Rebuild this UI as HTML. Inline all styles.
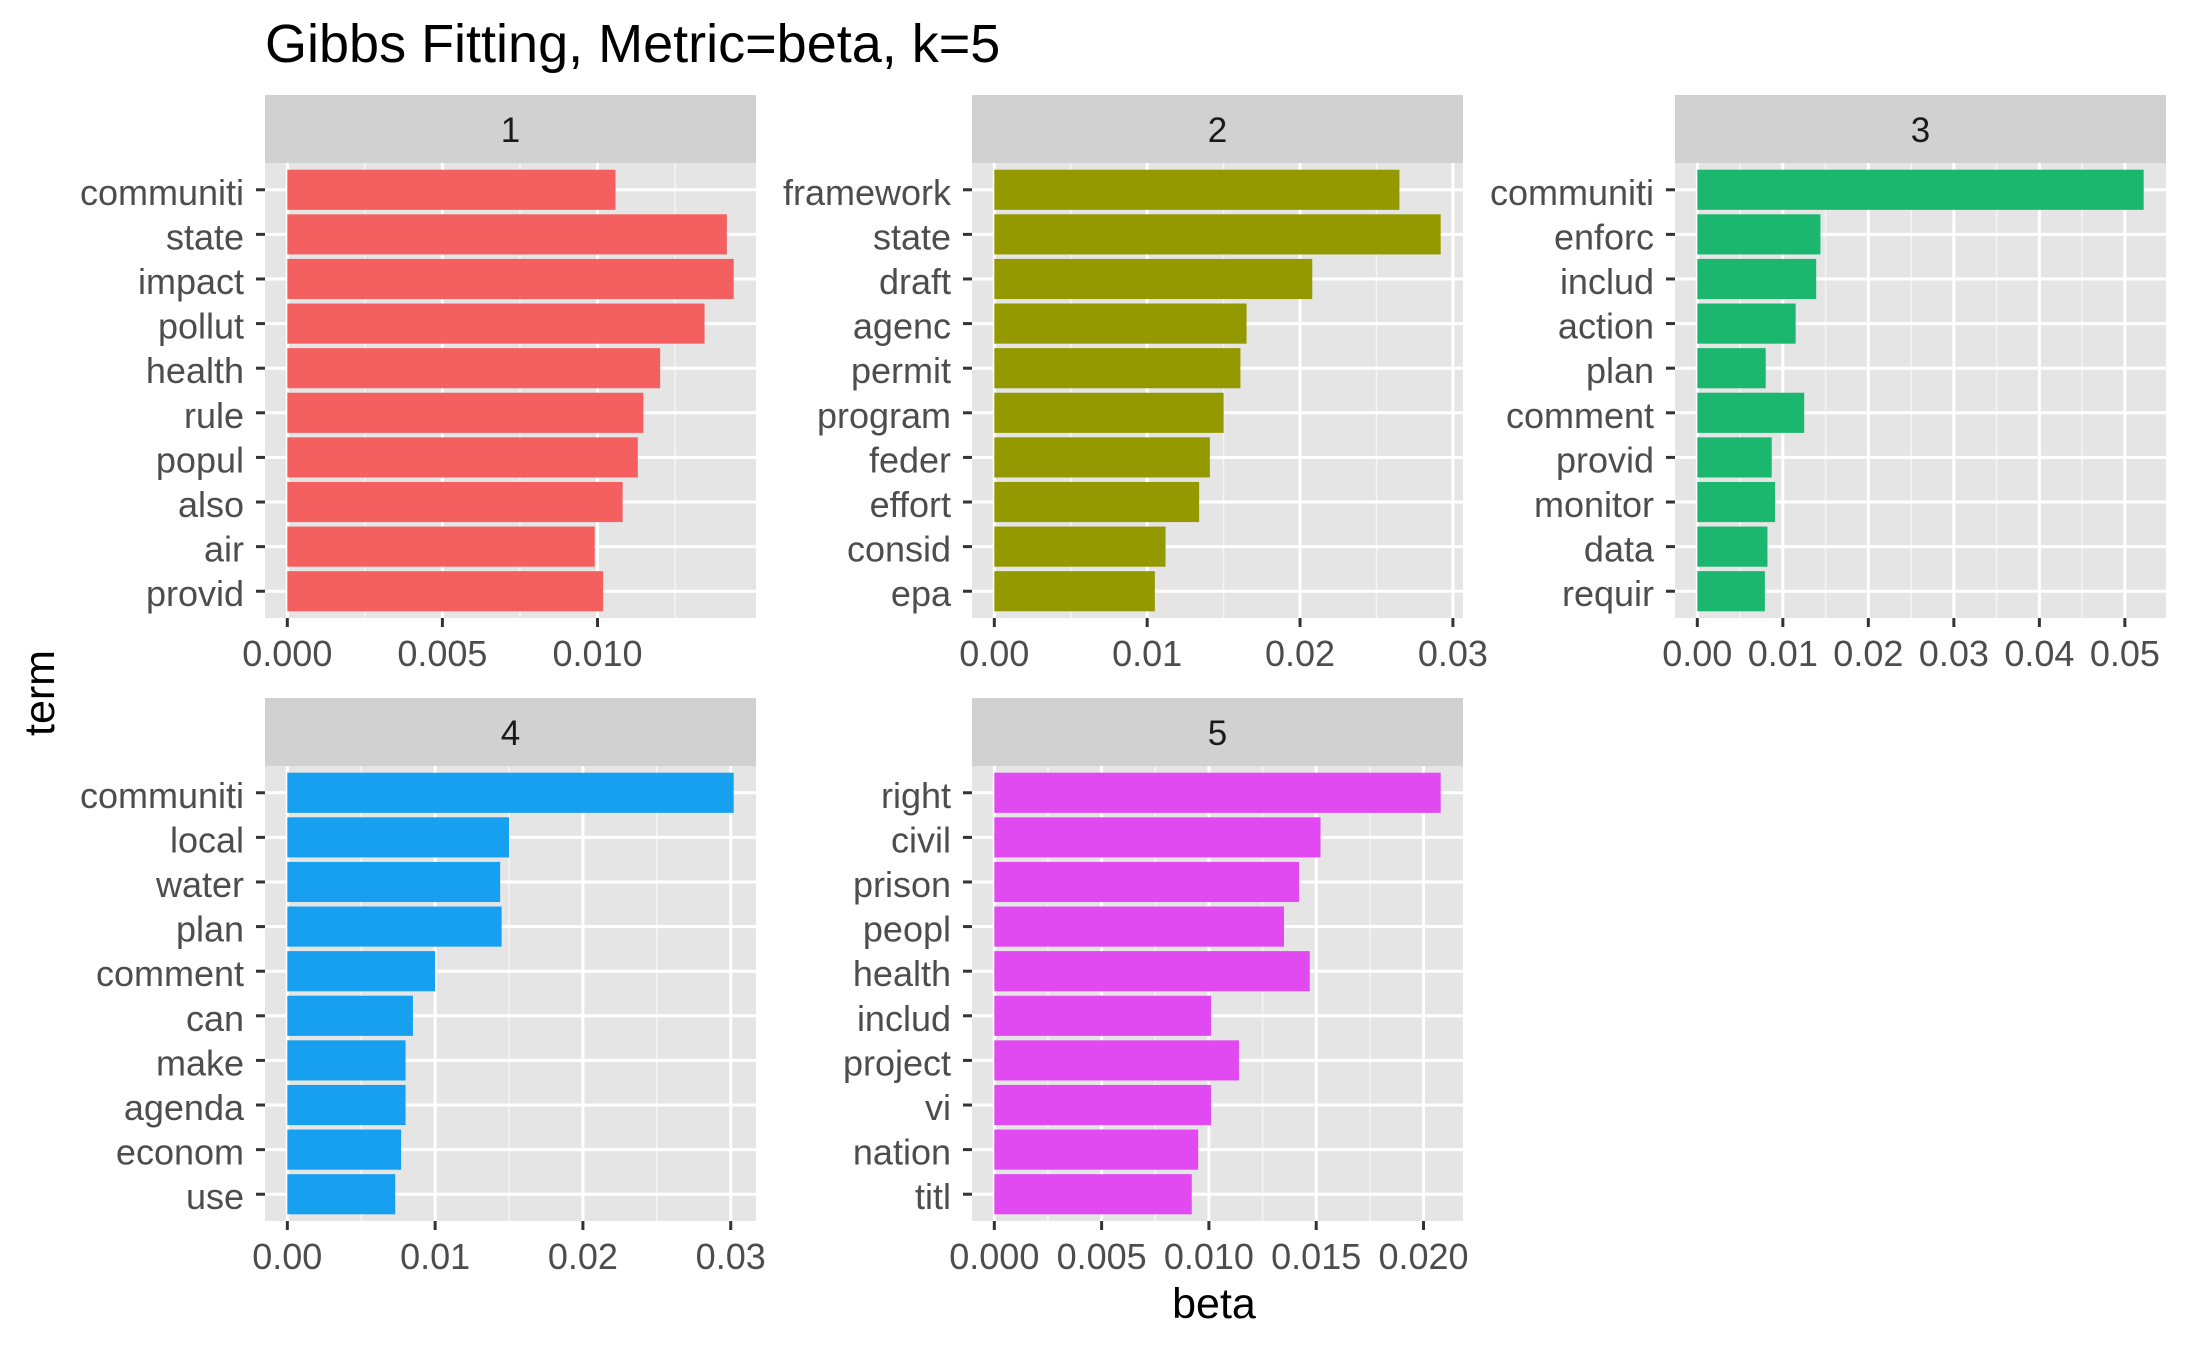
<!DOCTYPE html>
<html><head><meta charset="utf-8"><style>
html,body{margin:0;padding:0;background:#fff}
svg{display:block;font-family:"Liberation Sans",Arial,sans-serif}
</style></head><body>
<svg id="chart" width="2187" height="1351" viewBox="0 0 2187 1351" xmlns="http://www.w3.org/2000/svg">
<rect width="2187" height="1351" fill="#fff"/>
<text x="265" y="62" font-size="54" fill="#000">Gibbs Fitting, Metric=beta, k=5</text>
<text transform="translate(54,693) rotate(-90)" text-anchor="middle" font-size="43" fill="#000">term</text>
<text x="1214" y="1318" text-anchor="middle" font-size="43" fill="#000">beta</text>
<g id="panels"></g>
</svg>
<script>
const topics = ["1","2","3","4","5"];
const colors = ["#F4605F","#949900","#1BB76E","#17A0F0","#E04AF0"];
const terms1 = ["communiti","state","impact","pollut","health","rule","popul","also","air","provid"];
const beta1 = [0.01058,0.01417,0.01439,0.01345,0.01202,0.01148,0.01130,0.01081,0.00991,0.01018];
const terms2 = ["framework","state","draft","agenc","permit","program","feder","effort","consid","epa"];
const beta2 = [0.0265,0.0292,0.0208,0.0165,0.0161,0.0150,0.0141,0.0134,0.0112,0.0105];
const terms3 = ["communiti","enforc","includ","action","plan","comment","provid","monitor","data","requir"];
const beta3 = [0.0522,0.0144,0.0139,0.0115,0.0080,0.0125,0.0087,0.0091,0.0082,0.0079];
const terms4 = ["communiti","local","water","plan","comment","can","make","agenda","econom","use"];
const beta4 = [0.0302,0.0150,0.0144,0.0145,0.0100,0.0085,0.0080,0.0080,0.0077,0.0073];
const terms5 = ["right","civil","prison","peopl","health","includ","project","vi","nation","titl"];
const beta5 = [0.0208,0.0152,0.0142,0.0135,0.0147,0.0101,0.0114,0.0101,0.0095,0.0092];
const ticks1 = ["0.000","0.005","0.010"];
const ticks2 = ["0.00","0.01","0.02","0.03"];
const ticks3 = ["0.00","0.01","0.02","0.03","0.04","0.05"];
const ticks4 = ["0.00","0.01","0.02","0.03"];
const ticks5 = ["0.000","0.005","0.010","0.015","0.020"];

const NS="http://www.w3.org/2000/svg";
const root=document.getElementById('panels');
function mk(tag,attrs,parent){const e=document.createElementNS(NS,tag);for(const k in attrs)e.setAttribute(k,attrs[k]);(parent||root).appendChild(e);return e;}
const layout=[[265,163],[972,163],[1675,163],[265,766],[972,766]];
const PW=491,PH=455,SH=68;
const allTerms=[terms1,terms2,terms3,terms4,terms5];
const allBeta=[beta1,beta2,beta3,beta4,beta5];
const allTicks=[ticks1,ticks2,ticks3,ticks4,ticks5];

topics.forEach((t,i)=>{
  const [px,py]=layout[i];
  const terms=allTerms[i], vals=allBeta[i], ticks=allTicks[i].map(Number);
  const g=mk('g',{});
  
  
  const strip=mk('rect',{x:px,y:py-SH,width:PW,height:SH,fill:'#D1D1D1'},g);
  
  
  const st=mk('text',{x:px+PW/2,y:py-SH/2+13,'text-anchor':'middle','font-size':35,fill:'#1A1A1A'},g);
  st.textContent=t;
  
  
  const bg=mk('rect',{x:px,y:py,width:PW,height:PH,fill:'#E5E5E5'},g);
  
  
  const mx=Math.max(...vals);
  const lo=-0.05*mx, hi=1.05*mx;
  const X=v=>px+(v-lo)/(hi-lo)*PW;
  const n=terms.length, lo2=0.4, hi2=n+0.6;
  const Y=k=>py+(k-lo2)/(hi2-lo2)*PH;
  const step=ticks[1]-ticks[0];
  for(let m=ticks[0]-step/2;m<=hi;m+=step){ if(m<lo) continue;
    const l=mk('line',{x1:X(m),x2:X(m),y1:py,y2:py+PH,stroke:'#F5F5F5','stroke-width':1.5},g);
    
    
  }
  ticks.forEach(v=>{
    const l=mk('line',{x1:X(v),x2:X(v),y1:py,y2:py+PH,stroke:'#fff','stroke-width':3},g);
    
    
  });
  terms.forEach((term,k)=>{
    const yc=Y(k+1);
    const l=mk('line',{x1:px,x2:px+PW,y1:yc,y2:yc,stroke:'#fff','stroke-width':3},g);
    
    
  });
  terms.forEach((term,k)=>{
    const yc=Y(k+1), h=0.9*(PH/(hi2-lo2));
    const b=mk('rect',{x:X(0),y:yc-h/2,width:X(vals[k])-X(0),height:h,fill:colors[i]},g);
    
    
    const tk=mk('line',{x1:px-9,x2:px,y1:yc,y2:yc,stroke:'#333','stroke-width':3},g);
    
    
    const lb=mk('text',{x:px-21,y:yc+15,'text-anchor':'end','font-size':36,fill:'#4D4D4D'},g);
    lb.textContent=term;
    
    
  });
  allTicks[i].forEach((s,j)=>{
    const v=ticks[j];
    const tk=mk('line',{x1:X(v),x2:X(v),y1:py+PH,y2:py+PH+9,stroke:'#333','stroke-width':3},g);
    
    
    const lb=mk('text',{x:X(v),y:py+PH+48,'text-anchor':'middle','font-size':36,fill:'#4D4D4D'},g);
    lb.textContent=s;
    
    
  });
});
</script>
</body></html>
